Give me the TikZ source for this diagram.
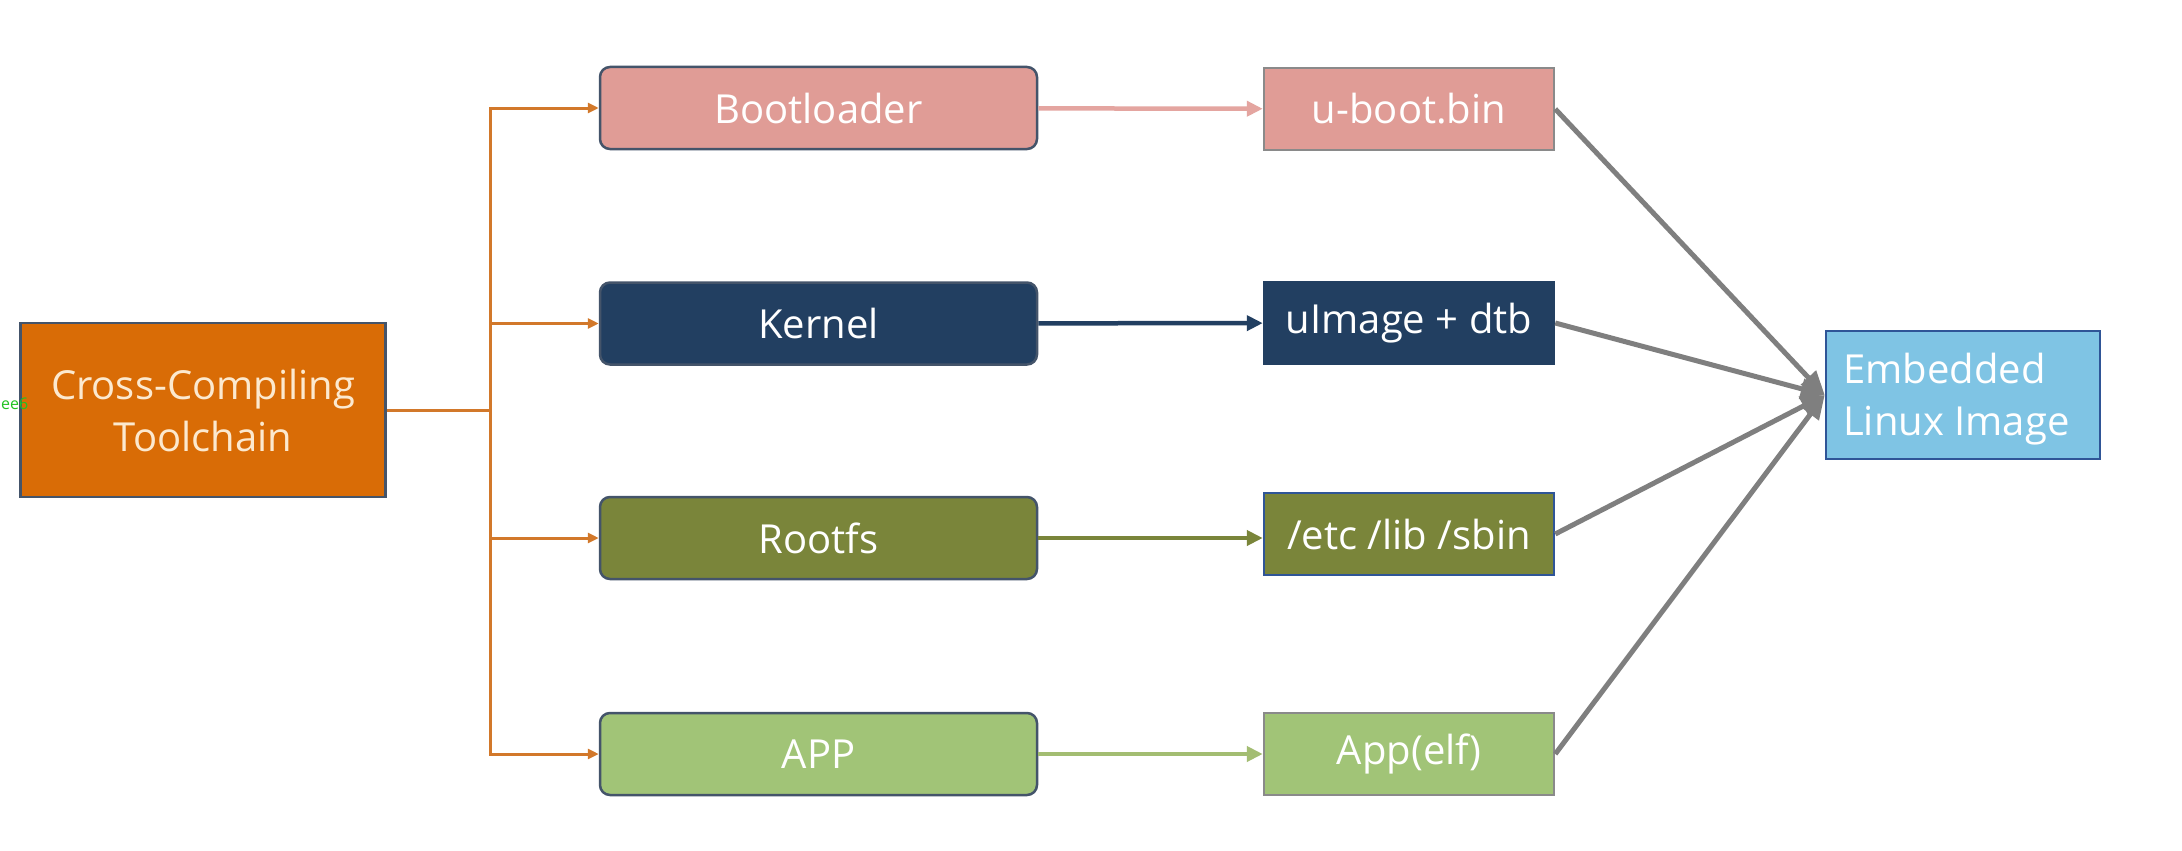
\documentclass[tikz,border=0pt]{standalone}
\usepackage{fontspec}
\setmainfont{Open Sans}
\usetikzlibrary{arrows.meta}
\definecolor{ccorange}{HTML}{D96C06}
\definecolor{ccline}{HTML}{D2782A}
\definecolor{cctext}{HTML}{FCE9CF}
\definecolor{pinkfill}{HTML}{E09C96}
\definecolor{pinkline}{HTML}{E4A5A0}
\definecolor{navyfill}{HTML}{223F61}
\definecolor{olivefill}{HTML}{7A853A}
\definecolor{greenfill}{HTML}{A1C477}
\definecolor{greenline}{HTML}{A3BD72}
\definecolor{bluefill}{HTML}{7FC4E4}
\definecolor{blueline}{HTML}{2F5597}
\definecolor{slateline}{HTML}{44546A}
\definecolor{boxgrey}{HTML}{8A8A8A}
\definecolor{arrowgrey}{HTML}{7F7F7F}
\definecolor{markgreen}{HTML}{22C322}
\tikzset{
  lbl/.style={font=\fontsize{40}{52}\selectfont, text=white, align=center, inner sep=0pt},
  stage/.style={lbl, rounded corners=10pt, draw=slateline, line width=2.5pt, minimum width=437pt, minimum height=82pt},
  product/.style={lbl, line width=2.5pt, minimum width=290pt, minimum height=82pt},
  feed/.style={draw=ccline, line width=3pt, -{Triangle[length=11pt,width=10pt]}},
  make/.style={line width=4.5pt, -{Triangle[length=16pt,width=15pt]}},
  merge/.style={draw=arrowgrey, line width=5pt, -{Triangle[length=24pt,width=20pt]}}
}
\begin{document}
\begin{tikzpicture}[x=1pt,y=-1pt]
\useasboundingbox (0,0) rectangle (2182,851);
\fill[white] (0,0) rectangle (2182,851);

\node[lbl, fill=ccorange, draw=slateline, line width=2.5pt, text=cctext, minimum width=365pt, minimum height=174pt] (cc) at (203,410) {Cross-Compiling\\Toolchain};

\node[lbl, text=markgreen, font=\fontsize{16}{18}\selectfont, anchor=west] (mark) at (1,404) {ee6};

\node[stage, fill=pinkfill] (boot) at (818.5,108) {Bootloader};
\node[stage, fill=navyfill] (kern) at (818.5,323.5) {Kernel};
\node[stage, fill=olivefill] (rfs) at (818.5,538) {Rootfs};
\node[stage, fill=greenfill] (app) at (818.5,754) {APP};

\node[product, fill=pinkfill, draw=boxgrey] (uboot) at (1409,109) {u-boot.bin};
\node[product, fill=navyfill, draw=navyfill] (uimg) at (1409,323) {uImage + dtb};
\node[product, fill=olivefill, draw=blueline] (etc) at (1409,534) {/etc /lib /sbin};
\node[product, fill=greenfill, draw=boxgrey] (elf) at (1409,754) {App(elf)};

\node[fill=bluefill, draw=blueline, line width=2.5pt, minimum width=274pt, minimum height=128pt] (emb) at (1963,395) {};
\node[lbl, align=left, anchor=west] (embtext) at (1843,399) {Embedded\\Linux Image};

\coordinate (j) at (490,410);
\draw[draw=ccline, line width=3pt] (cc.east) -- (j);
\draw[feed] (j) |- (boot.west);
\draw[feed] (j) |- (kern.west);
\draw[feed] (j) |- (rfs.west);
\draw[feed] (j) |- (app.west);

\draw[make, draw=pinkline] (boot) -- (uboot);
\draw[make, draw=navyfill] (kern) -- (uimg);
\draw[make, draw=olivefill] (rfs.east) -- (etc.west |- rfs.east);
\draw[make, draw=greenline] (app) -- (elf);

\draw[merge] (uboot.east) -- (emb.west);
\draw[merge] (uimg.east) -- (emb.west);
\draw[merge] (etc.east) -- (emb.west);
\draw[merge] (elf.east) -- (emb.west);
\end{tikzpicture}
\end{document}
